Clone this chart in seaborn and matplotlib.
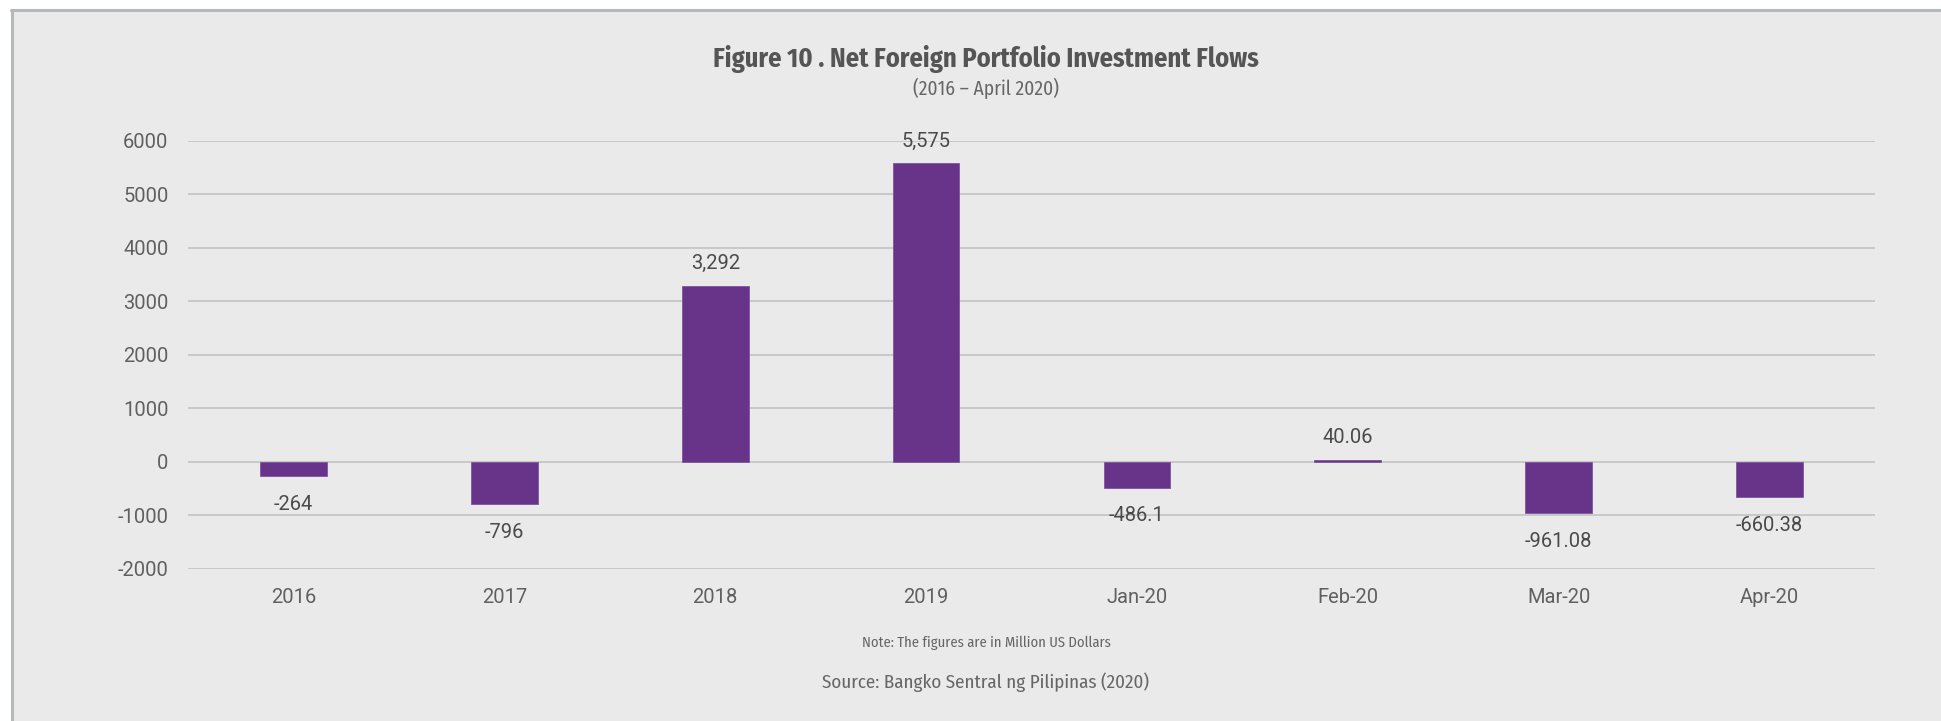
import matplotlib
matplotlib.use("Agg")
import matplotlib.pyplot as plt
import seaborn as sns
from matplotlib.patches import Rectangle
from matplotlib.lines import Line2D

categories = ["2016", "2017", "2018", "2019", "Jan-20", "Feb-20", "Mar-20", "Apr-20"]
values = [-264, -796, 3292, 5575, -486.1, 40.06, -961.08, -660.38]
value_labels = ["-264", "-796", "3,292", "5,575", "-486.1", "40.06", "-961.08", "-660.38"]
yticks = [-2000, -1000, 0, 1000, 2000, 3000, 4000, 5000, 6000]

title = "Figure 10 . Net Foreign Portfolio Investment Flows"
subtitle = "(2016 \u2013 April 2020)"
note = "Note: The figures are in Million US Dollars"
source = "Source: Bangko Sentral ng Pilipinas (2020)"

sns.set_theme(style="white")
plt.rcParams['font.family'] = ['Roboto', 'Liberation Sans', 'DejaVu Sans']
COND = ['Fira Sans Condensed', 'Roboto Condensed', 'DejaVu Sans']

W, H = 1941, 721
fig = plt.figure(figsize=(W / 100, H / 100), dpi=100, facecolor="white")

# panel background and borders
fig.patches.append(Rectangle((12 / W, 0), 1, 1 - 11 / H, transform=fig.transFigure,
                             facecolor="#EAEAEA", edgecolor="none", zorder=-10))
fig.add_artist(Line2D([11.5 / W, 11.5 / W], [0, 1 - 10 / H], transform=fig.transFigure,
                      color="#B6B9BB", lw=2.2))
fig.add_artist(Line2D([11 / W, 1], [1 - 10 / H, 1 - 10 / H], transform=fig.transFigure,
                      color="#B6B9BB", lw=2.2))

ax = fig.add_axes([188 / W, 1 - 568.7 / H, (1875 - 188) / W, (568.7 - 140.7) / H])
ax.set_facecolor("none")

sns.barplot(x=categories, y=values, color="#673489", width=0.316, ax=ax,
            saturation=1, edgecolor="#7E55A0", linewidth=0.6, zorder=3)

ax.set_ylim(-2000, 6000)
ax.set_xlim(-0.5, len(categories) - 0.5)
ax.set_yticks(yticks)
ax.set_yticklabels([str(t) for t in yticks])
ax.yaxis.grid(True, color="#C9C9C9", lw=1.4, zorder=0)
ax.set_axisbelow(True)
for s in ax.spines.values():
    s.set_visible(False)
ax.tick_params(axis="both", length=0, labelsize=14.5, labelcolor="#606060")
ax.tick_params(axis="y", pad=14)
ax.tick_params(axis="x", pad=14)
ax.set_xlabel("")
ax.set_ylabel("")

pos_labels = [l if v >= 0 else "" for l, v in zip(value_labels, values)]
neg_labels = [l if v < 0 else "" for l, v in zip(value_labels, values)]
ax.bar_label(ax.containers[0], labels=pos_labels, padding=9, fontsize=14.5,
             color="#4A4A4A")
ax.bar_label(ax.containers[0], labels=neg_labels, padding=13.5, fontsize=14.5,
             color="#4A4A4A")

cx = 986 / W
fig.text(cx, 1 - 59 / H, title, ha="center", va="center", fontsize=19,
         fontweight="bold", color="#555555", family=COND)
fig.text(cx, 1 - 88 / H, subtitle, ha="center", va="center", fontsize=14,
         color="#666666", family=COND)
fig.text(cx, 1 - 643 / H, note, ha="center", va="center", fontsize=10.5,
         color="#666666", family=COND)
fig.text(cx, 1 - 682 / H, source, ha="center", va="center", fontsize=13.7,
         color="#666666", family=COND)

fig.savefig("out.png", dpi=100, facecolor=fig.get_facecolor())
